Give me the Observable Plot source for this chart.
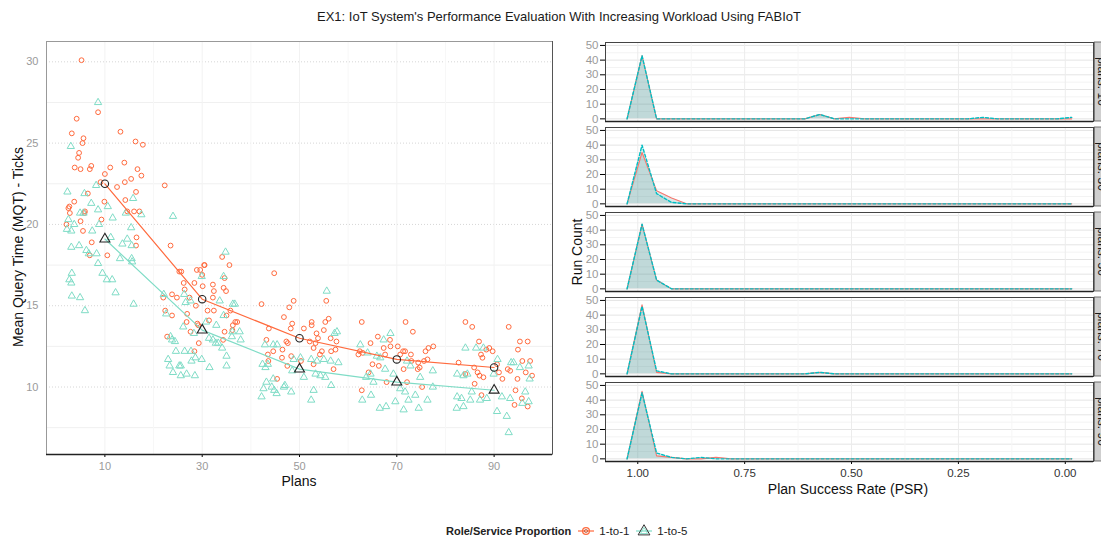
<!DOCTYPE html>
<html><head><meta charset="utf-8">
<script src="https://cdn.jsdelivr.net/npm/d3@7"></script>
<script src="https://cdn.jsdelivr.net/npm/@observablehq/plot@0.6"></script>
<style>
body{margin:0;background:#fff;font-family:"Liberation Sans",Arial,sans-serif;}
#wrap{position:relative;width:1101px;height:541px;overflow:hidden;background:#fff}
#title{position:absolute;left:0;width:1118px;top:9px;text-align:center;font-size:13px;color:#1a1a1a;white-space:nowrap}
#left{position:absolute;left:0;top:0}
#right{position:absolute;left:560px;top:0}
.lab{position:absolute;font-size:14px;color:#111;white-space:nowrap;transform:translate(-50%,-50%)}
.rot{transform:translate(-50%,-50%) rotate(-90deg)}
#left [aria-label="x-axis tick label"], #left [aria-label="y-axis tick label"]{fill:#9a9a9a}
#right [aria-label="y-axis tick label"]{fill:#9a9a9a}
#right [aria-label="x-axis tick label"]{fill:#333}
#legend{position:absolute;left:446px;top:524px;height:14px;display:flex;align-items:center;font-size:11.5px;color:#222;white-space:nowrap}
#legend b{font-size:11px;margin-right:6px}
#legend svg{display:block}
</style></head>
<body><div id="wrap">
<div id="left"></div><div id="right"></div>
<div id="title">EX1: IoT System's Performance Evaluation With Increasing Workload Using FABIoT</div>
<div class="lab rot" style="left:18px;top:247px">Mean Query Time (MQT) - Ticks</div>
<div class="lab" style="left:299px;top:481px">Plans</div>
<div class="lab rot" style="left:577px;top:252px">Run Count</div>
<div class="lab" style="left:848px;top:489px">Plan Success Rate (PSR)</div>
<div id="legend"></div>
</div>
<script>
const FONT = '"Liberation Sans", Arial, sans-serif';
const RED = "#FF6A3D", TEAL = "#7FDCC6";
const RED2 = "#F8766D", TEAL2 = "#00BFC4";

// ---------- left panel data ----------
const planTicks = [10, 30, 50, 70, 90];
const planMinor = [20, 40, 60, 80];
const mqtTicks = [10, 15, 20, 25, 30];
const mqtMinor = [7.5, 12.5, 17.5, 22.5, 27.5];
const plans = [10, 30, 50, 70, 90];
const mean11 = [22.5, 15.4, 13.0, 11.7, 11.2];
const mean15 = [19.1, 13.5, 11.1, 10.3, 9.8];

const pts11 = [
[5.2,30.1],[4.2,26.5],[3.2,25.6],[5.6,25.3],[5.4,25.0],[4.7,24.4],[4.5,24.1],[3.8,23.5],[5.0,23.4],[6.9,23.4],[7.2,23.6],[6.5,21.9],[3.7,21.4],[2.7,21.1],[2.5,21.0],[2.8,20.7],[2.1,20.0],[5.0,20.2],[5.9,20.8],[5.8,20.7],[5.5,19.6],[7.3,18.9],[6.9,18.1],[9.9,21.4],[9.3,20.3],[10.5,18.1],[9.1,22.6],[10.0,23.1],[11.1,23.5],[8.6,26.9],[13.2,25.7],[16.3,25.1],[17.8,24.9],[14.0,23.8],[16.7,23.4],[17.5,23.0],[15.4,22.8],[14.1,22.6],[12.5,22.3],[14.2,21.5],[16.4,22.0],[14.6,20.8],[16.0,20.8],[17.1,20.8],[16.5,19.2],[16.4,18.7],
[22.3,22.4],[23.5,18.7],[25.3,17.1],[25.7,17.1],[28.9,17.2],[29.6,17.2],[30.4,17.5],[30.5,17.5],[34.1,18.0],[35.6,17.5],[34.6,16.7],[22.0,15.5],[23.8,15.7],[24.8,15.5],[23.8,14.4],[22.4,14.7],[22.8,13.1],[26.2,16.4],[26.4,16.0],[27.4,15.5],[28.4,16.4],[30.0,16.9],[30.1,16.2],[28.7,15.0],[26.9,14.5],[26.8,14.0],[27.6,13.4],[29.0,13.9],[29.2,13.8],[29.3,12.7],[28.4,12.2],[31.1,14.7],[31.4,14.1],[32.4,14.7],[32.2,15.5],[32.2,16.3],[32.4,15.9],[34.4,16.1],[34.9,15.9],[34.6,13.4],[34.3,12.9],[35.0,14.4],[35.8,14.7],[36.3,13.8],[36.8,14.0],[37.2,14.0],[36.2,13.5],
[44.8,17.0],[42.2,15.1],[43.7,13.6],[46.8,14.3],[47.9,14.9],[48.8,15.3],[48.5,13.9],[48.2,13.6],[43.2,12.9],[44.6,12.2],[43.5,12.0],[43.6,11.6],[46.5,12.3],[47.3,12.8],[47.6,12.7],[46.4,11.8],[48.3,11.9],[47.5,11.3],[45.4,10.5],[55.5,15.3],[56.0,14.2],[55.3,14.0],[55.0,13.5],[52.5,14.0],[52.5,13.8],[50.9,13.6],[53.5,13.3],[53.8,13.0],[53.3,12.7],[52.1,12.8],[52.9,12.4],[54.6,12.2],[54.2,12.0],[56.4,13.0],[57.6,12.8],[57.4,12.3],[56.5,12.2],[50.3,11.6],[52.9,11.4],[57.0,11.1],
[62.8,14.0],[71.8,14.0],[73.3,13.4],[66.1,13.1],[67.3,12.4],[68.6,12.9],[68.7,12.5],[62.4,12.2],[62.1,12.0],[63.0,12.1],[64.6,12.7],[65.0,11.4],[66.3,11.3],[64.2,10.9],[70.2,12.5],[71.3,12.2],[70.7,12.0],[71.7,12.2],[72.9,12.0],[73.0,11.6],[71.4,11.1],[74.4,11.5],[74.3,11.1],[74.7,11.2],[75.9,12.2],[76.5,12.4],[77.5,12.5],[76.3,11.7],[75.6,11.6],[67.6,12.0],[67.9,10.3],[62.8,9.8],[72.1,10.3],[75.2,10.0],
[84.1,14.0],[85.5,13.7],[93.0,13.7],[86.9,12.8],[88.4,12.3],[89.0,12.4],[89.7,12.2],[87.3,12.0],[87.6,11.8],[82.7,11.5],[85.9,11.2],[86.6,10.9],[87.0,10.7],[87.8,10.6],[86.0,10.2],[84.1,10.8],[87.4,9.5],[90.6,11.4],[91.0,10.9],[91.7,10.5],[92.8,11.1],[93.3,11.0],[95.3,12.8],[96.9,12.8],[94.9,12.3],[95.8,11.6],[97.4,11.6],[96.5,10.9],[97.8,10.7],[94.8,10.5],[94.4,9.8],[94.2,8.9],[95.7,9.3],[96.9,8.8]
];
const pts15 = [
[8.6,27.5],[3.0,24.8],[2.3,22.0],[8.2,22.4],[5.8,21.9],[7.2,21.3],[15.8,21.6],[8.6,20.9],[10.6,21.1],[11.6,20.4],[4.9,20.7],[5.6,20.7],[2.5,20.3],[3.7,20.0],[2.2,19.7],[3.1,19.6],[8.8,20.0],[7.4,19.6],[15.4,19.8],[14.3,20.7],[17.5,20.6],[11.2,19.2],[14.6,19.1],[15.5,18.7],[13.6,18.8],[3.1,18.6],[4.7,18.7],[6.2,18.4],[6.7,18.2],[8.3,18.2],[13.1,17.9],[15.5,17.9],[15.6,17.7],[8.6,17.6],[9.5,17.0],[3.2,17.0],[2.7,16.6],[3.1,16.4],[10.4,16.6],[11.5,16.6],[3.2,15.6],[4.9,15.5],[5.9,14.7],[12.2,15.8],[15.9,15.1],
[24.0,20.5],[34.8,18.3],[29.9,16.8],[34.4,16.8],[22.1,15.7],[22.6,14.5],[23.5,13.1],[23.8,12.9],[24.4,12.8],[24.6,12.2],[23.0,11.7],[23.3,11.3],[25.3,11.3],[25.6,11.3],[24.0,10.9],[25.6,10.7],[26.8,10.8],[28.5,10.7],[26.4,12.2],[27.7,12.2],[27.8,11.6],[28.6,11.8],[29.9,11.7],[31.5,11.2],[26.1,13.7],[28.3,13.3],[31.4,13.0],[32.2,12.9],[32.8,12.7],[33.3,12.7],[34.1,12.4],[35.0,11.9],[35.0,11.3],[36.1,13.1],[37.9,12.9],[37.7,13.4],[36.2,13.4],[27.6,15.3],[26.3,15.7],[26.6,15.2],[33.6,15.3],[36.3,15.1],[36.7,15.1],[30.8,14.0],[32.9,13.8],[34.4,14.4],
[42.2,9.4],[42.6,9.9],[43.2,10.3],[44.3,10.0],[44.8,9.8],[45.3,9.6],[46.8,10.0],[47.0,10.1],[48.3,9.7],[44.6,10.5],[42.4,11.4],[43.0,11.2],[43.5,11.4],[42.9,12.6],[44.6,12.6],[45.4,12.6],[48.5,11.0],[48.8,11.7],[55.6,15.9],[57.7,13.4],[57.2,13.3],[50.2,11.8],[52.4,11.7],[53.6,11.6],[55.0,11.7],[56.4,11.6],[58.0,11.5],[50.9,10.6],[54.3,10.7],[55.3,10.6],[56.5,10.1],[52.9,9.8],[52.4,9.2],[53.3,10.8],
[62.5,12.6],[68.7,13.3],[67.3,12.9],[64.0,12.1],[65.9,11.9],[66.6,11.8],[64.6,10.8],[63.7,10.6],[65.2,10.3],[64.7,9.5],[62.9,9.2],[66.5,8.7],[67.8,8.8],[69.7,9.1],[71.4,8.6],[72.4,9.2],[74.5,8.7],[76.3,9.2],[73.8,9.5],[70.7,9.9],[71.7,9.7],[67.6,11.1],[69.3,10.8],[74.8,10.6],[77.4,10.0],[77.4,11.0],[72.1,11.6],[72.8,11.3],
[84.1,12.4],[86.3,12.4],[87.8,12.4],[82.4,10.8],[83.7,10.7],[84.5,10.8],[82.4,9.4],[83.3,9.3],[82.3,8.7],[83.7,8.8],[85.1,9.2],[85.4,9.7],[87.1,9.2],[88.5,9.3],[90.6,8.5],[92.6,8.2],[93.0,7.2],[91.6,9.4],[93.3,9.3],[93.5,11.5],[94.0,11.5],[95.3,11.2],[97.1,11.3],[96.4,9.7],[97.1,9.1],[95.8,9.0],[97.3,10.5],[90.7,11.7],[89.9,10.8]
];

// ---------- right panel data ----------
const facetLabels = ["plans: 10", "plans: 30", "plans: 50", "plans: 70", "plans: 90"];
const psrTicks = [1, 0.75, 0.5, 0.25, 0];
const psrMinor = [0.875, 0.625, 0.375, 0.125];
const countTicks = [0, 10, 20, 30, 40, 50];
const countMinor = [5, 15, 25, 35, 45];
const psrBins = [1.025,0.990,0.956,0.921,0.886,0.852,0.817,0.782,0.748,0.713,0.678,0.644,0.609,0.574,0.540,0.505,0.470,0.436,0.401,0.366,0.332,0.297,0.262,0.228,0.193,0.158,0.124,0.089,0.054,0.020,-0.015];
const counts11 = [
[0,43,0,0,0,0,0,0,0,0,0,0,0,3,0,1,0,0,0,0,0,0,0,0,0,0,0,0,0,0,0],
[0,35,9,4,0,0,0,0,0,0,0,0,0,0,0,0,0,0,0,0,0,0,0,0,0,0,0,0,0,0,0],
[0,44,6,0,0,0,0,0,0,0,0,0,0,0,0,0,0,0,0,0,0,0,0,0,0,0,0,0,0,0,0],
[0,47,1,0,0,0,0,0,0,0,0,0,0,1,0,0,0,0,0,0,0,0,0,0,0,0,0,0,0,0,0],
[0,46,2,1,0,0,1,0,0,0,0,0,0,0,0,0,0,0,0,0,0,0,0,0,0,0,0,0,0,0,0]
];
const counts15 = [
[0,43,0,0,0,0,0,0,0,0,0,0,0,3,0,0,0,0,0,0,0,0,0,0,1,0,0,0,0,0,1],
[0,40,7,1,0,0,0,0,0,0,0,0,0,0,0,0,0,0,0,0,0,0,0,0,0,0,0,0,0,0,0],
[0,44,6,0,0,0,0,0,0,0,0,0,0,0,0,0,0,0,0,0,0,0,0,0,0,0,0,0,0,0,0],
[0,46,2,0,0,0,0,0,0,0,0,0,0,1,0,0,0,0,0,0,0,0,0,0,0,0,0,0,0,0,0],
[0,45,4,1,0,1,0,0,0,0,0,0,0,0,0,0,0,0,0,0,0,0,0,0,0,0,0,0,0,0,0]
];

// ---------- left panel ----------
const rows11 = pts11.map(([x, y]) => ({x, y}));
const rows15 = pts15.map(([x, y]) => ({x, y}));
const m11 = plans.map((p, i) => ({x: p, y: mean11[i]}));
const m15 = plans.map((p, i) => ({x: p, y: mean15[i]}));
const yMin = 5.85, yMax = 31.25, xMin = -2, xMax = 102;

const left = Plot.plot({
  width: 560, height: 500,
  marginLeft: 46, marginRight: 8, marginTop: 41, marginBottom: 46,
  style: {fontFamily: FONT, fontSize: "11px", background: "transparent"},
  x: {domain: [xMin, xMax], ticks: planTicks, tickSize: 3, tickPadding: 5, label: null},
  y: {domain: [yMin, yMax], ticks: mqtTicks, tickSize: 0, tickPadding: 8, label: null},
  marks: [
    Plot.ruleY(mqtMinor, {stroke: "#f0f0f0"}),
    Plot.ruleY(mqtTicks, {stroke: "#d6d6d6", strokeDasharray: "1,2"}),
    Plot.ruleX(planMinor, {stroke: "#f7f7f7"}),
    Plot.ruleX(planTicks, {stroke: "#f2f2f2"}),
    Plot.dot(rows11, {x: "x", y: "y", r: 2.4, stroke: RED, strokeWidth: 1}),
    Plot.dot(rows15, {x: "x", y: "y", symbol: "triangle", r: 2.7, stroke: TEAL, strokeWidth: 1}),
    Plot.line(m11, {x: "x", y: "y", stroke: RED, strokeWidth: 1.2}),
    Plot.line(m15, {x: "x", y: "y", stroke: TEAL, strokeWidth: 1.2}),
    Plot.dot(m11, {x: "x", y: "y", r: 3.7, stroke: "#222", strokeWidth: 1.1}),
    Plot.dot(m15, {x: "x", y: "y", symbol: "triangle", r: 3.7, stroke: "#222", strokeWidth: 1.1}),
    Plot.frame({stroke: "#999"}),
    Plot.ruleX([xMax], {stroke: "#555"}),
    Plot.ruleY([yMin], {stroke: "#222", strokeWidth: 1.5})
  ]
});
document.getElementById("left").append(left);

// ---------- right panel ----------
const psrRows11 = [], psrRows15 = [];
facetLabels.forEach((f, i) => {
  psrBins.forEach((b, k) => {
    psrRows11.push({plans: f, psr: b, count: counts11[i][k]});
    psrRows15.push({plans: f, psr: b, count: counts15[i][k]});
  });
});
const cMin = -1.8, cMax = 52;
const right = Plot.plot({
  width: 541, height: 500,
  marginLeft: 45, marginRight: 8, marginTop: 42, marginBottom: 38,
  style: {fontFamily: FONT, fontSize: "11.5px", background: "transparent"},
  x: {domain: [1.0755, -0.066], ticks: psrTicks, tickFormat: d3.format(".2f"), tickSize: 3, tickPadding: 4, label: null},
  y: {domain: [cMin, cMax], ticks: countTicks, tickSize: 5, tickPadding: 2, label: null},
  fy: {domain: facetLabels, paddingInner: 0.07, paddingOuter: 0, axis: null, label: null},
  marks: [
    Plot.ruleY(countMinor, {stroke: "#f3f3f3"}),
    Plot.ruleY(countTicks, {stroke: "#e4e4e4"}),
    Plot.ruleX(psrMinor, {stroke: "#f6f6f6"}),
    Plot.ruleX(psrTicks, {stroke: "#ececec"}),
    Plot.areaY(psrRows11, {x: "psr", y: "count", fy: "plans", fill: "#4f9494", fillOpacity: 0.2}),
    Plot.areaY(psrRows15, {x: "psr", y: "count", fy: "plans", fill: "#4f9494", fillOpacity: 0.2}),
    Plot.line(psrRows11, {x: "psr", y: "count", fy: "plans", stroke: RED2, strokeWidth: 1.1}),
    Plot.line(psrRows15, {x: "psr", y: "count", fy: "plans", stroke: TEAL2, strokeWidth: 1.4, strokeDasharray: "3,2"}),
    Plot.frame({stroke: "#444"}),
    Plot.ruleY([cMin], {stroke: "#222", strokeWidth: 1.5})
  ]
});
document.getElementById("right").append(right);

// facet strips (labels partly clipped by the figure edge, as in the reference)
(function () {
  let fy = right.scale("fy");
  let apply, bw;
  if (fy && fy.apply && fy.bandwidth) { apply = v => fy.apply(v); bw = fy.bandwidth; }
  else {
    const s = d3.scaleBand().domain(facetLabels).range([42, 462]).paddingInner(0.07).paddingOuter(0);
    apply = s; bw = s.bandwidth();
  }
  const svg = d3.select(right);
  facetLabels.forEach(f => {
    const y0 = apply(f);
    svg.append("rect").attr("x", 534.3).attr("y", y0).attr("width", 20).attr("height", bw)
      .attr("fill", "#cfcfcf").attr("stroke", "#555").attr("stroke-width", 0.8);
    svg.append("text").attr("transform", `translate(537.5,${y0 + bw / 2}) rotate(90)`)
      .attr("text-anchor", "middle").attr("font-size", 12).attr("fill", "#1a1a1a")
      .attr("font-family", FONT).text(f);
  });
})();

// legend
(function () {
  const lg = d3.select("#legend");
  lg.append("b").text("Role/Service Proportion");
  const k1 = lg.append("svg").attr("width", 18).attr("height", 14);
  k1.append("line").attr("x1", 1).attr("x2", 17).attr("y1", 7).attr("y2", 7).attr("stroke", RED).attr("stroke-width", 1.2);
  k1.append("circle").attr("cx", 9).attr("cy", 7).attr("r", 3.4).attr("fill", "none").attr("stroke", RED).attr("stroke-width", 1.3);
  k1.append("circle").attr("cx", 9).attr("cy", 7).attr("r", 1.6).attr("fill", "none").attr("stroke", "#a04020").attr("stroke-width", 0.6);
  lg.append("span").style("margin", "0 6px 0 4px").text("1-to-1");
  const k2 = lg.append("svg").attr("width", 18).attr("height", 14);
  k2.append("line").attr("x1", 1).attr("x2", 17).attr("y1", 7).attr("y2", 7).attr("stroke", TEAL).attr("stroke-width", 1.2);
  k2.append("path").attr("d", d3.symbol(d3.symbolTriangle, 60)()).attr("transform", "translate(9,7.5)")
    .attr("fill", "none").attr("stroke", "#333").attr("stroke-width", 1);
  k2.append("path").attr("d", d3.symbol(d3.symbolTriangle, 22)()).attr("transform", "translate(9,7.5)")
    .attr("fill", "none").attr("stroke", TEAL).attr("stroke-width", 0.9);
  lg.append("span").style("margin-left", "4px").text("1-to-5");
})();
</script>
</body></html>
